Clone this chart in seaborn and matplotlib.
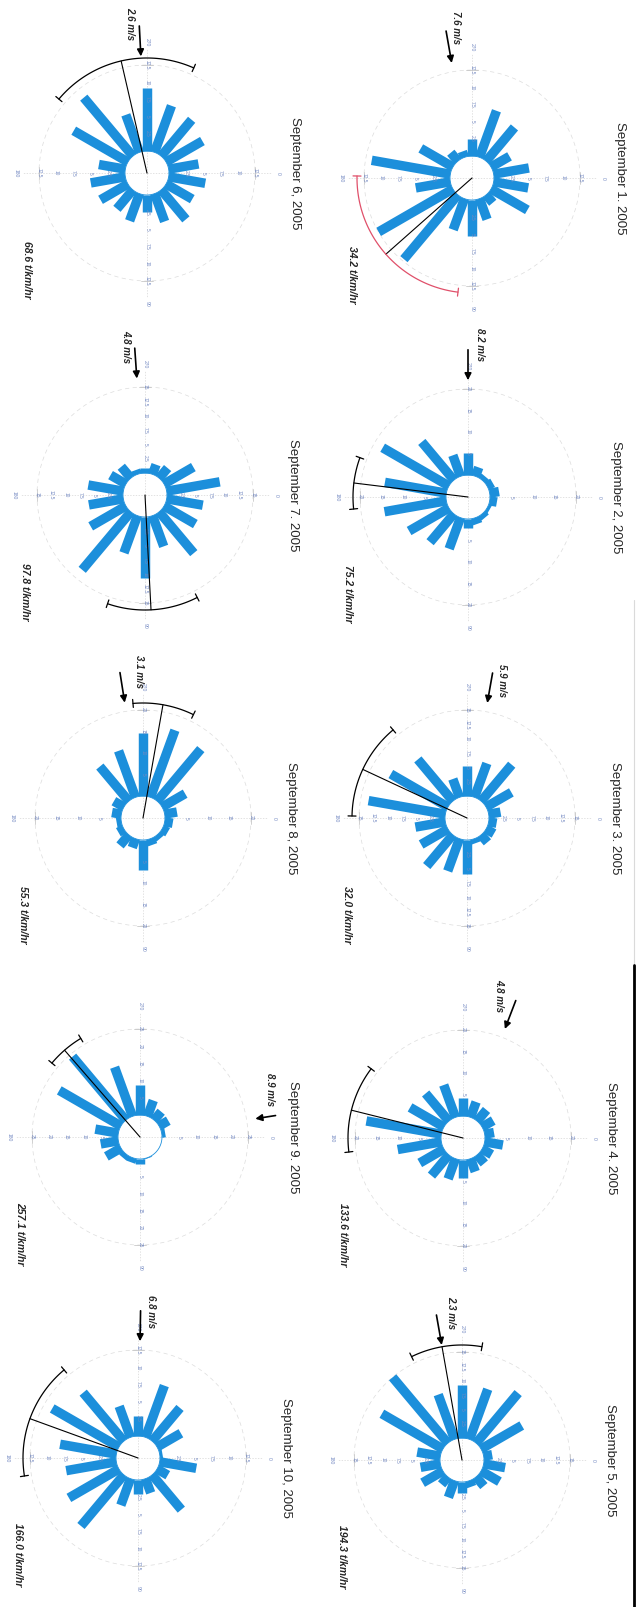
import numpy as np
import pandas as pd
import matplotlib
matplotlib.use("Agg")
import matplotlib.pyplot as plt
from matplotlib.lines import Line2D
import seaborn as sns

# ---- data ----
days = [1, 2, 3, 4, 5, 6, 7, 8, 9, 10]
titles = ["September 1. 2005", "September 2, 2005", "September 3. 2005",
          "September 4. 2005", "September 5, 2005", "September 6, 2005",
          "September 7. 2005", "September 8, 2005", "September 9. 2005",
          "September 10, 2005"]
directions = [10, 30, 50, 70, 90, 110, 130, 150, 170,
              190, 210, 230, 250, 270, 290, 310, 330, 350]

freq_sep01 = [5.1, 6.1, 1.5, 3.2, 5.3, 4.8, 12.2, 12.5, 5.1, 11.6, 5.4, 1.6, 0.9, 2.4, 7.2, 6.4, 3.1, 5.2]
freq_sep02 = [1.7, 0.7, 1.1, 1.5, 2.2, 7.7, 8.6, 10.7, 14.6, 14.5, 17.8, 11.6, 5.2, 5.0, 2.2, 1.1, 1.5, 2.2]
freq_sep03 = [1.4, 1.6, 1.7, 0.8, 6.0, 6.0, 7.1, 5.4, 5.3, 13.6, 11.5, 9.5, 3.4, 5.2, 6.3, 8.3, 5.1, 2.1]
freq_sep04 = [4.3, 2.6, 2.6, 3.2, 4.2, 5.0, 6.3, 6.5, 10.3, 17.7, 9.1, 8.4, 8.0, 4.2, 3.8, 3.4, 3.0, 2.2]
freq_sep05 = [3.8, 3.7, 2.1, 1.1, 2.0, 3.1, 1.7, 4.1, 3.5, 4.1, 12.3, 15.5, 8.3, 9.2, 9.3, 11.4, 8.2, 1.5]
freq_sep06 = [5.4, 4.4, 5.6, 4.3, 2.4, 4.2, 3.6, 4.6, 5.1, 3.9, 9.1, 11.1, 5.8, 9.2, 7.2, 6.9, 6.1, 4.4]
freq_sep07 = [6.4, 6.3, 9.4, 5.7, 10.7, 6.9, 13.2, 7.1, 6.1, 6.2, 3.1, 2.6, 0.8, 0.8, 1.8, 2.3, 5.9, 9.4]
freq_sep08 = [1.9, 1.5, 1.1, 1.5, 6.9, 2.2, 3.2, 1.5, 1.1, 2.2, 2.7, 10.5, 11.5, 14.6, 16.6, 15.8, 6.2, 2.9]
freq_sep09 = [0.0, 0.0, 0.0, 0.2, 1.4, 1.4, 1.4, 4.9, 5.2, 6.8, 20.7, 24.1, 15.2, 8.6, 4.9, 3.2, 3.1, 1.0]
freq_sep10 = [5.4, 1.8, 6.6, 2.2, 2.1, 4.1, 9.7, 8.4, 7.4, 8.3, 11.2, 9.2, 4.8, 2.9, 8.0, 6.3, 4.0, 0.4]

r_max = [12.5, 20, 15, 20, 15, 12.5, 15, 20, 25, 12.5]
r_step = [2.5, 5, 2.5, 5, 2.5, 2.5, 2.5, 5, 5, 2.5]
mean_dir = [138.5, 187, 205, 194, 260, 257, 87, 280, 229, 200]
arc_lo = [97, 174, 181, 173, 244, 220, 63, 265, 220, 171]
arc_hi = [181, 200, 230, 217, 280, 294, 109, 296, 239, 230]
wind_dir = [260, 270, 280, 291, 260, 267, 266, 261, 351, 271]
wind_speed = ["7.6", "8.2", "5.9", "4.8", "2.3", "2.6", "4.8", "3.1", "8.9", "6.8"]
flux = ["34.2", "75.2", "32.0", "133.6", "194.3", "68.6", "97.8", "55.3", "257.1", "166.0"]

# ---- page layout in pixels (page is rotated, text reads top to bottom) ----
W, H = 638, 1607
centers = [(472, 178), (468, 497), (467, 818), (463, 1138), (462, 1460),
           (147, 173), (145, 495), (143, 818), (140, 1137), (138, 1458)]
tail_px = [152, 150, 150, 150, 150, 150, 150, 150, 140, 150]
speed_offsets = [(10, -1), (12, -2), (9, 10), (-18, -2), (15, 0),
                 (-9, 0), (-8, 1), (19, 2), (-8, -26), (10, 3)]
R_PX = 108      # outer dashed circle
HOLE_PX = 22    # white hole in the middle
BAR = "#1c8fdb"
TICK = "#7489c2"

freqs = [freq_sep01, freq_sep02, freq_sep03, freq_sep04, freq_sep05,
         freq_sep06, freq_sep07, freq_sep08, freq_sep09, freq_sep10]
df = pd.DataFrame({
    "day": np.repeat(days, len(directions)),
    "direction": directions * len(days),
    "freq": np.concatenate(freqs),
})

sns.set_theme(style="white")
plt.rcParams["font.family"] = ["Liberation Sans", "DejaVu Sans"]


def rose(data, color=None, **kws):
    ax = plt.gca()
    i = days.index(int(data["day"].iloc[0]))
    rmax = r_max[i]
    h = rmax * HOLE_PX / (R_PX - HOLE_PX)
    top = h + rmax

    def rr(px):
        return px / R_PX * top

    ax.set_theta_zero_location("E")
    ax.set_theta_direction(-1)
    ax.set_ylim(0, top)
    ax.grid(False)
    ax.set_xticks([])
    ax.set_yticks([])
    ax.spines["polar"].set_visible(False)
    ax.patch.set_alpha(0)

    full = np.linspace(0, 2 * np.pi, 300)
    ax.plot(full, np.full_like(full, top), color="#dcdcdc", lw=0.5,
            ls=(0, (6, 5)), clip_on=False, zorder=1)

    # spokes with their radial labels
    for ang in [0, 90, 180, 270]:
        a = np.deg2rad(ang)
        ax.plot([a, a], [0, rr(124)], color="#d6d6d6", lw=0.5,
                ls=(0, (2, 2)), clip_on=False, zorder=1)
        ax.plot([a - 0.06, a + 0.06], [top, top], color="#bdbdbd", lw=0.5,
                clip_on=False, zorder=1)
        for v in np.arange(r_step[i], rmax + 0.01, r_step[i]):
            ax.text(a, h + v, f"{v:g}", rotation=-90, fontsize=3.4,
                    color=TICK, ha="center", va="center", clip_on=False)
        ax.text(a, rr(131), str(ang), rotation=-90, fontsize=3.6,
                color=TICK, ha="center", va="center", clip_on=False)

    th = np.deg2rad(data["direction"].to_numpy())
    lc = ax.vlines(th, h, h + data["freq"].to_numpy(), colors=BAR,
                   lw=6.8, zorder=2)
    lc.set_capstyle("butt")
    ax.plot(full, np.full_like(full, h), color=BAR, lw=0.6, zorder=2)

    # mean direction and its spread
    arc_col = "#e0506a" if i == 0 else "black"
    m = np.deg2rad(mean_dir[i])
    ax.plot([m, m], [0, rr(115)], color="black", lw=0.8, zorder=3,
            clip_on=False)
    arc = np.deg2rad(np.linspace(arc_lo[i], arc_hi[i], 80))
    ax.plot(arc, np.full_like(arc, rr(115)), color=arc_col, lw=0.9,
            zorder=3, clip_on=False)
    for e in [arc_lo[i], arc_hi[i]]:
        ax.plot([np.deg2rad(e)] * 2, [rr(111), rr(119)], color=arc_col,
                lw=0.9, zorder=3, clip_on=False)

    # wind arrow and speed
    w = np.deg2rad(wind_dir[i])
    ax.annotate("", xy=(w, rr(114)), xytext=(w, rr(tail_px[i])),
                arrowprops=dict(arrowstyle="-|>", color="black", lw=1.2,
                                mutation_scale=10),
                annotation_clip=False)
    dx, dy = speed_offsets[i]
    ax.annotate(f"{wind_speed[i]} m/s", xy=(w, rr(tail_px[i])),
                xytext=(dx * 0.72, -dy * 0.72), textcoords="offset points",
                rotation=-90, ha="center", va="center", fontsize=7,
                fontweight="bold", fontstyle="italic", annotation_clip=False)


col_order = [6, 1, 7, 2, 8, 3, 9, 4, 10, 5]
g = sns.FacetGrid(df, col="day", col_wrap=2, col_order=col_order,
                  subplot_kws={"projection": "polar"}, sharex=False,
                  sharey=False, despine=False, height=2.5)
g.map_dataframe(rose)

fig = g.figure
fig.set_size_inches(W / 100, H / 100)
for i, day in enumerate(days):
    ax = g.axes_dict[day]
    ax.set_title("")
    cx, cy = centers[i]
    ax.set_position([(cx - R_PX) / W, 1 - (cy + R_PX) / H,
                     2 * R_PX / W, 2 * R_PX / H])
    fig.text((cx + (153 if day == 9 else 148)) / W, 1 - cy / H, titles[i],
             rotation=-90, ha="center", va="center", fontsize=9.5)
    fig.text((cx - 120) / W, 1 - (cy + 97) / H, f"{flux[i]} t/km/hr",
             rotation=-90, ha="center", va="center", fontsize=7.5,
             fontweight="bold", fontstyle="italic")

# scanner edge on the right
fig.add_artist(Line2D([634 / W] * 2, [1 - 600 / H, 1 - 965 / H],
                      transform=fig.transFigure, color="#dadada", lw=0.8))
fig.add_artist(Line2D([634 / W] * 2, [1 - 965 / H, 0],
                      transform=fig.transFigure, color="black", lw=2))

fig.savefig("out.png", dpi=100, facecolor="white")
